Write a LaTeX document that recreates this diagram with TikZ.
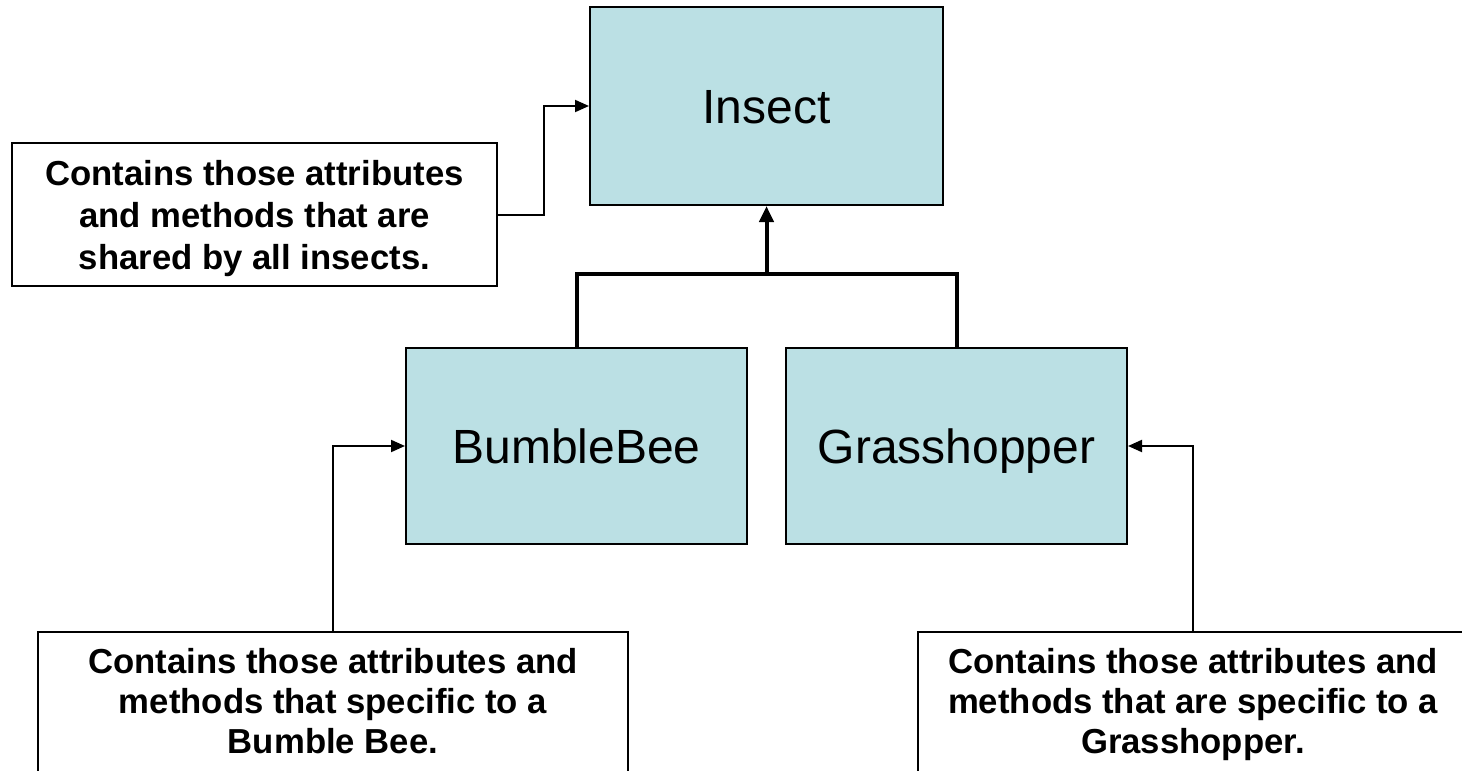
\documentclass[tikz,border=0pt]{standalone}
\usepackage{fontspec}
\setmainfont{Liberation Sans}
\usetikzlibrary{arrows.meta}
\definecolor{boxfill}{RGB}{187,224,228}
\begin{document}
\begin{tikzpicture}[x=0.5pt,y=-0.5pt,
  cls/.style={draw=black, line width=1pt, fill=boxfill, inner sep=0pt,
    text height=17.2pt, text depth=0pt,
    font=\fontsize{24}{28}\selectfont},
  notebox/.style={draw=black, line width=1pt, fill=white, inner sep=0pt},
  notetext/.style={align=center, inner sep=0pt, text depth=0pt,
    font=\bfseries\fontsize{17.35}{20}\selectfont},
  conn/.style={line width=1pt, -{Triangle[length=7pt,width=6pt]}},
  thickline/.style={line width=2pt},
  thickconn/.style={line width=2pt, -{Triangle[length=8pt,width=7pt]}}]
\useasboundingbox (0,0) rectangle (1462,771);
\clip (0,0) rectangle (1462,771);
% class boxes
\node[cls, minimum width=176.5pt, minimum height=99pt] (insect) at (766.5,106) {Insect};
\node[cls, minimum width=170.5pt, minimum height=98pt] (bb) at (576.5,446) {BumbleBee};
\node[cls, minimum width=170.5pt, minimum height=98pt] (gh) at (956.5,446) {Grasshopper};
% top note
\node[notebox, minimum width=242.5pt, minimum height=71.5pt] (topnote) at (254.5,214.5) {};
\node[notetext, font=\bfseries\fontsize{17.35}{21}\selectfont] (toptext) at (254.5,215)
  {Contains those attributes\\and methods that are\\shared by all insects.};
% bottom notes (cut by the lower edge)
\node[notebox, anchor=north, minimum width=295pt, minimum height=100pt] (bbnote) at (333,631) {};
\node[notetext] (bbtext) at (333,701)
  {Contains those attributes and\\methods that specific to a\\Bumble Bee.};
\node[notebox, anchor=north, minimum width=275pt, minimum height=100pt] (ghnote) at (1193,631) {};
\node[notetext] (ghtext) at (1193,701)
  {Contains those attributes and\\methods that are specific to a\\Grasshopper.};
% connectors
\coordinate (j) at (766.5,274);
\draw[thickline] (bb.north) -- (bb.north |- j) -- (gh.north |- j) -- (gh.north);
\draw[thickconn] (j) -- (insect.south);
\draw[conn] (topnote.east) -- ++(46,0) |- (insect.west);
\draw[conn] (bbnote.north) |- (bb.west);
\draw[conn] (ghnote.north) |- (gh.east);
\end{tikzpicture}
\end{document}
